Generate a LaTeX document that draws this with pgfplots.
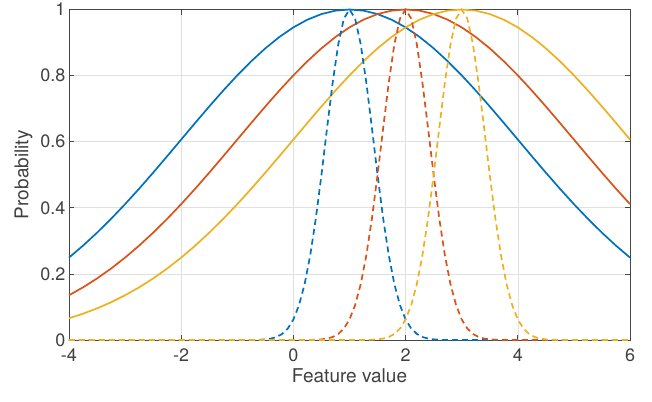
\documentclass[border=0pt]{standalone}
\usepackage{pgfplots}
\pgfplotsset{compat=1.18}
\usepackage{fontspec}
\setmainfont{TeX Gyre Heros}
\usetikzlibrary{calc}
\definecolor{mblue}{rgb}{0,0.447,0.741}
\definecolor{mred}{rgb}{0.85,0.325,0.098}
\definecolor{myellow}{rgb}{0.929,0.694,0.125}
\definecolor{axgray}{rgb}{0.15,0.15,0.15}
\begin{document}
\begin{tikzpicture}
\begin{axis}[
  scale only axis,
  width=561pt, height=330.5pt,
  xmin=-4, xmax=6, ymin=0, ymax=1,
  xtick={-4,-2,0,2,4,6},
  ytick={0,0.2,0.4,0.6,0.8,1},
  yticklabels={0,0.2,0.4,0.6,0.8,1},
  xticklabels={-4,-2,0,2,4,6},
  tick align=inside,
  major tick length=5.5pt,
  xtick pos=both, ytick pos=both,
  grid=major,
  major grid style={draw=black!12, line width=0.6pt},
  axis line style={draw=axgray!85, line width=0.8pt},
  every tick/.style={draw=axgray!85, line width=0.8pt},
  tick label style={font=\fontsize{18}{20}\selectfont, text=black!75},
  xticklabel shift=5pt,
  label style={font=\fontsize{19}{22}\selectfont, text=black!75},
  ylabel style={yshift=1pt},
  xlabel={Feature value},
  ylabel={Probability},
  clip=false,
  /pgf/number format/assume math mode=true,
]
\coordinate (sw) at (rel axis cs:0,0);
\coordinate (ne) at (rel axis cs:1,1);
\addplot[mblue, line width=1.7pt] coordinates {
(-4,.24935)(-3.75,.28551)(-3.5,.32465)(-3.25,.36660)(-3,.41111)(-2.75,.45783)(-2.5,.50634)(-2.25,.55610)(-2,.60653)(-1.75,.65696)(-1.5,.70665)(-1.25,.75484)(-1,.80074)(-0.75,.84354)(-0.5,.88250)(-0.25,.91685)(0,.94596)(0.25,.96923)(0.5,.98621)(0.75,.99653)(1,1)(1.25,.99653)(1.5,.98621)(1.75,.96923)(2,.94596)(2.25,.91685)(2.5,.88250)(2.75,.84354)(3,.80074)(3.25,.75484)(3.5,.70665)(3.75,.65696)(4,.60653)(4.25,.55610)(4.5,.50634)(4.75,.45783)(5,.41111)(5.25,.36660)(5.5,.32465)(5.75,.28551)(6,.24935)};
\addplot[mred, line width=1.7pt] coordinates {
(-4,.13534)(-3.75,.15933)(-3.5,.18627)(-3.25,.21627)(-3,.24935)(-2.75,.28551)(-2.5,.32465)(-2.25,.36660)(-2,.41111)(-1.75,.45783)(-1.5,.50634)(-1.25,.55610)(-1,.60653)(-0.75,.65696)(-0.5,.70665)(-0.25,.75484)(0,.80074)(0.25,.84354)(0.5,.88250)(0.75,.91685)(1,.94596)(1.25,.96923)(1.5,.98621)(1.75,.99653)(2,1)(2.25,.99653)(2.5,.98621)(2.75,.96923)(3,.94596)(3.25,.91685)(3.5,.88250)(3.75,.84354)(4,.80074)(4.25,.75484)(4.5,.70665)(4.75,.65696)(5,.60653)(5.25,.55610)(5.5,.50634)(5.75,.45783)(6,.41111)};
\addplot[myellow, line width=1.7pt] coordinates {
(-4,.06573)(-3.75,.07956)(-3.5,.09563)(-3.25,.11416)(-3,.13534)(-2.75,.15933)(-2.5,.18627)(-2.25,.21627)(-2,.24935)(-1.75,.28551)(-1.5,.32465)(-1.25,.36660)(-1,.41111)(-0.75,.45783)(-0.5,.50634)(-0.25,.55610)(0,.60653)(0.25,.65696)(0.5,.70665)(0.75,.75484)(1,.80074)(1.25,.84354)(1.5,.88250)(1.75,.91685)(2,.94596)(2.25,.96923)(2.5,.98621)(2.75,.99653)(3,1)(3.25,.99653)(3.5,.98621)(3.75,.96923)(4,.94596)(4.25,.91685)(4.5,.88250)(4.75,.84354)(5,.80074)(5.25,.75484)(5.5,.70665)(5.75,.65696)(6,.60653)};
\addplot[mblue, line width=1.7pt, dash pattern=on 6pt off 4pt] coordinates {
(-4,0)(-0.7,0)(-0.6,.00082)(-0.5,.00193)(-0.4,.00432)(-0.3,.00915)(-0.2,.01832)(-0.1,.03470)(0,.06218)(0.1,.10540)(0.2,.16901)(0.3,.25638)(0.4,.36788)(0.5,.49935)(0.6,.64118)(0.7,.77880)(0.8,.89484)(0.9,.97261)(1,1)(1.1,.97261)(1.2,.89484)(1.3,.77880)(1.4,.64118)(1.5,.49935)(1.6,.36788)(1.7,.25638)(1.8,.16901)(1.9,.10540)(2,.06218)(2.1,.03470)(2.2,.01832)(2.3,.00915)(2.4,.00432)(2.5,.00193)(2.6,.00082)(2.7,0)(6,0)};
\addplot[mred, line width=1.7pt, dash pattern=on 6pt off 4pt] coordinates {
(-4,0)(0.3,0)(0.4,.00082)(0.5,.00193)(0.6,.00432)(0.7,.00915)(0.8,.01832)(0.9,.03470)(1,.06218)(1.1,.10540)(1.2,.16901)(1.3,.25638)(1.4,.36788)(1.5,.49935)(1.6,.64118)(1.7,.77880)(1.8,.89484)(1.9,.97261)(2,1)(2.1,.97261)(2.2,.89484)(2.3,.77880)(2.4,.64118)(2.5,.49935)(2.6,.36788)(2.7,.25638)(2.8,.16901)(2.9,.10540)(3,.06218)(3.1,.03470)(3.2,.01832)(3.3,.00915)(3.4,.00432)(3.5,.00193)(3.6,.00082)(3.7,0)(6,0)};
\addplot[myellow, line width=1.7pt, dash pattern=on 6pt off 4pt] coordinates {
(-4,0)(1.3,0)(1.4,.00082)(1.5,.00193)(1.6,.00432)(1.7,.00915)(1.8,.01832)(1.9,.03470)(2,.06218)(2.1,.10540)(2.2,.16901)(2.3,.25638)(2.4,.36788)(2.5,.49935)(2.6,.64118)(2.7,.77880)(2.8,.89484)(2.9,.97261)(3,1)(3.1,.97261)(3.2,.89484)(3.3,.77880)(3.4,.64118)(3.5,.49935)(3.6,.36788)(3.7,.25638)(3.8,.16901)(3.9,.10540)(4,.06218)(4.1,.03470)(4.2,.01832)(4.3,.00915)(4.4,.00432)(4.5,.00193)(4.6,.00082)(4.7,0)(6,0)};
\end{axis}
\pgfresetboundingbox
\path ($(sw)+(-69pt,-62pt)$) rectangle ($(ne)+(22pt,9.5pt)$);
\end{tikzpicture}
\end{document}
